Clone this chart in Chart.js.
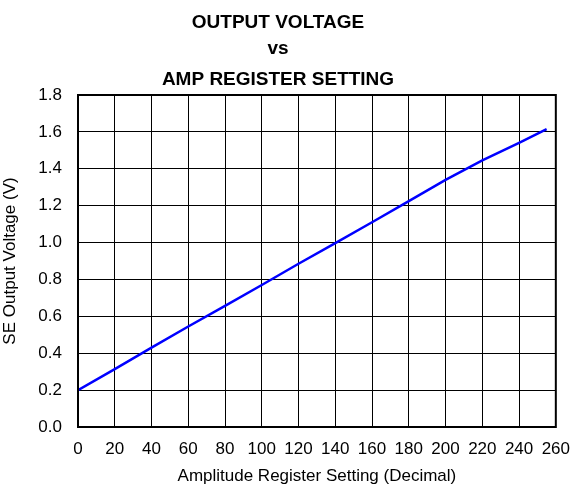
<!DOCTYPE html>
<html>
<head>
<meta charset="utf-8">
<script src="https://cdn.jsdelivr.net/npm/chart.js@4"></script>
<style>
  html, body { margin: 0; padding: 0; background: #fff; }
  #wrap { width: 582px; height: 487px; }
</style>
</head>
<body>
<div id="wrap"><canvas id="myChart" width="582" height="487"></canvas></div>
<script>
// register setting (decimal) and measured SE output voltage (V)
const codes = [0, 20, 40, 60, 80, 100, 120, 140, 160, 180, 200, 220, 240, 255];
const volts = [0.200, 0.314, 0.430, 0.545, 0.657, 0.770, 0.885, 0.997, 1.110, 1.225, 1.340, 1.445, 1.540, 1.615];
const titleLines = ['OUTPUT VOLTAGE', 'vs', 'AMP REGISTER SETTING'];
const xTitle = 'Amplitude Register Setting (Decimal)';
const yTitle = 'SE Output Voltage (V)';

const FONT = '"Liberation Sans", Arial, sans-serif';

// title is centred a bit left of the plot, so draw it by hand
const titlePlugin = {
    id: 'titleLines',
    afterDraw(chart) {
        const ctx = chart.ctx;
        ctx.save();
        ctx.fillStyle = '#000';
        ctx.font = 'bold 19px ' + FONT;
        ctx.textAlign = 'center';
        ctx.textBaseline = 'alphabetic';
        const ys = [28, 54, 85];
        titleLines.forEach((t, i) => ctx.fillText(t, 278, ys[i]));
        ctx.restore();
    }
};

const boxPlugin = {
    id: 'plotBox',
    afterDraw(chart) {
        const a = chart.chartArea;
        const ctx = chart.ctx;
        ctx.save();
        ctx.strokeStyle = '#000';
        ctx.lineWidth = 2;
        ctx.strokeRect(a.left, a.top, a.right - a.left, a.bottom - a.top);
        ctx.restore();
    }
};

const ctx = document.getElementById('myChart').getContext('2d');
const chart = new Chart(ctx, {
    type: 'line',
    data: {
        datasets: [{
            data: codes.map((c, i) => ({ x: c, y: volts[i] })),
            borderColor: '#0000ff',
            borderWidth: 2.5,
            pointRadius: 0,
            tension: 0,
            fill: false
        }]
    },
    options: {
        responsive: false,
        animation: false,
        layout: { padding: { top: 95, right: 16, bottom: 0, left: 0 } },
        plugins: {
            legend: { display: false },
            title: { display: false },
            tooltip: { enabled: false }
        },
        scales: {
            x: {
                type: 'linear',
                min: 0,
                max: 260,
                afterFit: s => { s.height = 60; },
                ticks: {
                    stepSize: 20,
                    color: '#000',
                    padding: 12,
                    maxRotation: 0,
                    font: { family: FONT, size: 17 }
                },
                grid: { color: '#000', lineWidth: 1, drawTicks: false },
                border: { color: '#000', width: 2 },
                title: {
                    display: true,
                    text: xTitle,
                    color: '#000',
                    padding: 0,
                    font: { family: FONT, size: 17 }
                }
            },
            y: {
                min: 0,
                max: 1.8,
                afterFit: s => { s.width = 78; },
                ticks: {
                    stepSize: 0.2,
                    color: '#000',
                    padding: 16,
                    font: { family: FONT, size: 17 },
                    callback: v => v.toFixed(1)
                },
                grid: { color: '#000', lineWidth: 1, drawTicks: false },
                border: { color: '#000', width: 2 },
                title: {
                    display: true,
                    text: yTitle,
                    color: '#000',
                    padding: { top: 0, bottom: 8 },
                    font: { family: FONT, size: 17 }
                }
            }
        }
    },
    plugins: [titlePlugin, boxPlugin]
});
</script>
</body>
</html>
